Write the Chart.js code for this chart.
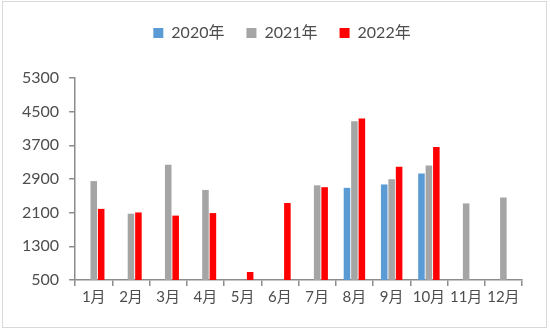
<!DOCTYPE html>
<html>
<head>
<meta charset="utf-8">
<script src="https://cdn.jsdelivr.net/npm/chart.js@4"></script>
<style>
  html, body { margin: 0; padding: 0; background: #fff; }
  #wrap { position: relative; width: 550px; height: 332px; }
  #frame { position: absolute; left: 2px; top: 1px; width: 543px; height: 325px; border: 1.5px solid #d9d9d9; pointer-events: none; }
</style>
</head>
<body>
<div id="wrap">
  <canvas id="myChart" width="550" height="332"></canvas>
  <div id="frame"></div>
</div>
<script>
// monthly values
const months = ['1月', '2月', '3月', '4月', '5月', '6月', '7月', '8月', '9月', '10月', '11月', '12月'];
const yearNames = ['2020年', '2021年', '2022年'];
const y2020 = [null, null, null, null, null, null, null, 2690, 2770, 3030, null, null];
const y2021 = [2850, 2075, 3240, 2640, null, null, 2750, 4270, 2895, 3220, 2320, 2460];
const y2022 = [2190, 2105, 2030, 2090, 690, 2330, 2705, 4340, 3190, 3660, null, null];
const yTicks = [500, 1300, 2100, 2900, 3700, 4500, 5300];

function init() {
  const fontFamily = 'Lato, "Noto Sans CJK SC", sans-serif';
  const axisColor = '#8c8c8c';
  const textColor = '#4d4d4d';

  const data = {
    labels: months,
    datasets: [
      { label: yearNames[0], data: y2020, backgroundColor: '#5b9bd5' },
      { label: yearNames[1], data: y2021, backgroundColor: '#a5a5a5' },
      { label: yearNames[2], data: y2022, backgroundColor: '#ff0000' },
    ]
  };

  // extra room under the legend, and nudge it a bit to the right
  const legendTweak = {
    id: 'legendTweak',
    beforeInit(chart) {
      const lg = chart.legend;
      const fit = lg.fit;
      lg.fit = function () {
        fit.bind(lg)();
        this.height += 27;
      };
      const draw = lg.draw;
      lg.draw = function () {
        const ctx = chart.ctx;
        ctx.save();
        ctx.translate(15, 0);
        draw.apply(lg, arguments);
        ctx.restore();
      };
    }
  };

  new Chart(document.getElementById('myChart'), {
    type: 'bar',
    data: data,
    plugins: [legendTweak],
    options: {
      responsive: false,
      animation: false,
      datasets: {
        bar: { categoryPercentage: 0.6, barPercentage: 0.88 }
      },
      layout: {
        padding: { left: 12, right: 28, top: 3, bottom: 24 }
      },
      plugins: {
        tooltip: { enabled: false },
        legend: {
          position: 'top',
          labels: {
            boxWidth: 10,
            boxHeight: 10,
            padding: 22,
            color: textColor,
            font: { family: fontFamily, size: 16 }
          }
        }
      },
      scales: {
        x: {
          grid: {
            offset: true,
            drawOnChartArea: false,
            drawTicks: true,
            tickLength: 6,
            color: axisColor,
            lineWidth: 1.5
          },
          border: { color: axisColor, width: 1.5 },
          ticks: {
            color: textColor,
            padding: 2,
            maxRotation: 0,
            font: { family: fontFamily, size: 15 }
          }
        },
        y: {
          min: 500,
          max: 5300,
          afterBuildTicks: (axis) => { axis.ticks = yTicks.map(v => ({ value: v })); },
          grid: {
            drawOnChartArea: false,
            drawTicks: true,
            tickLength: 6,
            color: axisColor,
            lineWidth: 1.5
          },
          border: { color: axisColor, width: 1.5 },
          ticks: {
            color: textColor,
            padding: 10,
            font: { family: fontFamily, size: 16 },
            callback: (v) => String(v)
          }
        }
      }
    }
  });
}

document.addEventListener("DOMContentLoaded", init, false);
</script>
</body>
</html>
